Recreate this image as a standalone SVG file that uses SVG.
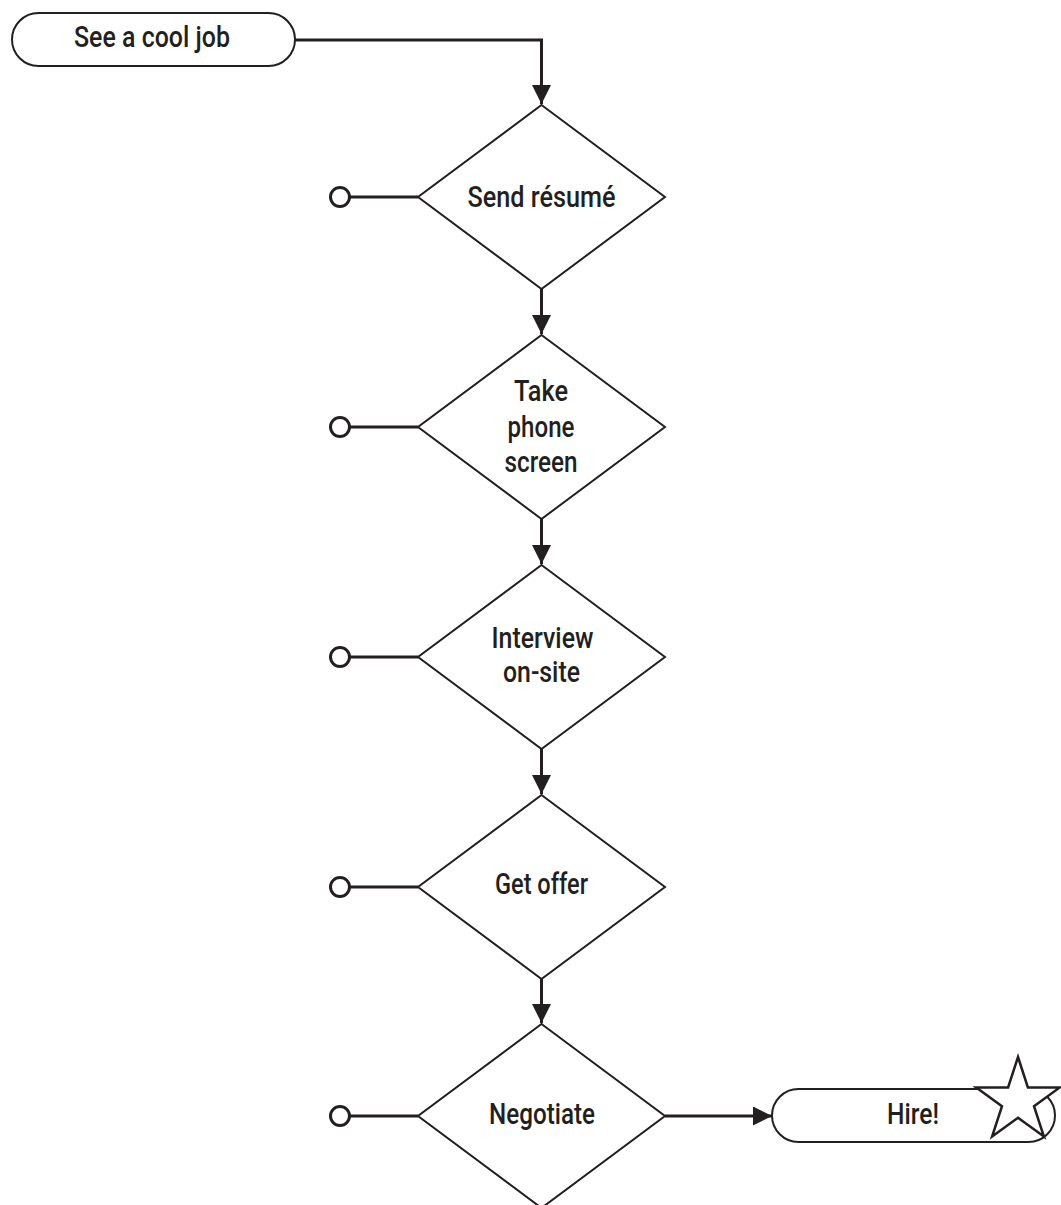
<svg xmlns="http://www.w3.org/2000/svg" width="1061" height="1205" viewBox="0 0 1061 1205">
  <style>
    .bg { fill: #ffffff; }
    .pill { fill: #ffffff; stroke: #231f20; stroke-width: 2; }
    .decision { fill: #ffffff; stroke: #231f20; stroke-width: 2; stroke-linejoin: miter; }
    .flow { fill: none; stroke: #231f20; stroke-width: 3; }
    .stub { fill: none; stroke: #231f20; stroke-width: 3; }
    .term { fill: #ffffff; stroke: #231f20; stroke-width: 3; }
    .star { fill: #ffffff; stroke: #231f20; stroke-width: 2.5; stroke-linejoin: miter; }
    .label { font-family: Roboto, "Liberation Sans", Arial, sans-serif; font-weight: 500; font-size: 30px; fill: #231f20; text-anchor: middle; }
  </style>
  <defs>
    <marker id="arrow" markerUnits="userSpaceOnUse" markerWidth="19" markerHeight="19" viewBox="0 0 19 19" refX="19" refY="9.5" orient="auto">
      <path d="M0,0 L19,9.5 L0,19 z" fill="#231f20"/>
    </marker>
  </defs>

  <rect class="bg" x="0" y="0" width="1061" height="1205"/>

  <!-- connectors -->
  <g id="connectors">
    <path class="flow" d="M295,40 H541.5 V104" marker-end="url(#arrow)"/>
    <path class="flow" d="M541.5,289 V334" marker-end="url(#arrow)"/>
    <path class="flow" d="M541.5,519 V564" marker-end="url(#arrow)"/>
    <path class="flow" d="M541.5,749 V794" marker-end="url(#arrow)"/>
    <path class="flow" d="M541.5,979 V1023" marker-end="url(#arrow)"/>
    <path class="flow" d="M665,1116 H772" marker-end="url(#arrow)"/>

    <!-- exit stubs on the left of each decision -->
    <line class="stub" x1="350" y1="197" x2="418" y2="197"/>
    <circle class="term" cx="340" cy="197" r="9.5"/>
    <line class="stub" x1="350" y1="427" x2="418" y2="427"/>
    <circle class="term" cx="340" cy="427" r="9.5"/>
    <line class="stub" x1="350" y1="657" x2="418" y2="657"/>
    <circle class="term" cx="340" cy="657" r="9.5"/>
    <line class="stub" x1="350" y1="887" x2="418" y2="887"/>
    <circle class="term" cx="340" cy="887" r="9.5"/>
    <line class="stub" x1="350" y1="1116" x2="418" y2="1116"/>
    <circle class="term" cx="340" cy="1116" r="9.5"/>
  </g>

  <!-- start -->
  <g id="see-a-cool-job">
    <rect class="pill" x="12" y="13" width="283" height="53" rx="26.5" ry="26.5"/>
    <text class="label" x="152" y="47" textLength="156" lengthAdjust="spacingAndGlyphs">See a cool job</text>
  </g>

  <!-- decisions -->
  <g id="send-resume">
    <polygon class="decision" points="541.5,105 665,197 541.5,289 418,197"/>
    <text class="label" x="541.5" y="207" textLength="148" lengthAdjust="spacingAndGlyphs">Send résumé</text>
  </g>

  <g id="take-phone-screen">
    <polygon class="decision" points="541.5,335 665,427 541.5,519 418,427"/>
    <text class="label" x="541" y="401" textLength="54" lengthAdjust="spacingAndGlyphs">Take</text>
    <text class="label" x="541" y="437" textLength="67" lengthAdjust="spacingAndGlyphs">phone</text>
    <text class="label" x="541" y="472" textLength="73" lengthAdjust="spacingAndGlyphs">screen</text>
  </g>

  <g id="interview-on-site">
    <polygon class="decision" points="541.5,565 665,657 541.5,749 418,657"/>
    <text class="label" x="542.5" y="648" textLength="102" lengthAdjust="spacingAndGlyphs">Interview</text>
    <text class="label" x="541.5" y="682" textLength="77" lengthAdjust="spacingAndGlyphs">on-site</text>
  </g>

  <g id="get-offer">
    <polygon class="decision" points="541.5,795 665,887 541.5,979 418,887"/>
    <text class="label" x="541.5" y="894" textLength="93" lengthAdjust="spacingAndGlyphs">Get offer</text>
  </g>

  <g id="negotiate">
    <polygon class="decision" points="541.5,1024 665,1116 541.5,1208 418,1116"/>
    <text class="label" x="542" y="1124" textLength="106" lengthAdjust="spacingAndGlyphs">Negotiate</text>
  </g>

  <!-- end -->
  <g id="hire">
    <rect class="pill" x="772" y="1089" width="283" height="53" rx="26.5" ry="26.5"/>
    <text class="label" x="913" y="1124" textLength="52" lengthAdjust="spacingAndGlyphs">Hire!</text>
    <polygon class="star" points="1018,1057 1027.9,1087.4 1059.8,1087.4 1034,1106.2 1043.9,1136.6 1018,1117.8 992.1,1136.6 1002,1106.2 976.2,1087.4 1008.1,1087.4"/>
  </g>
</svg>
